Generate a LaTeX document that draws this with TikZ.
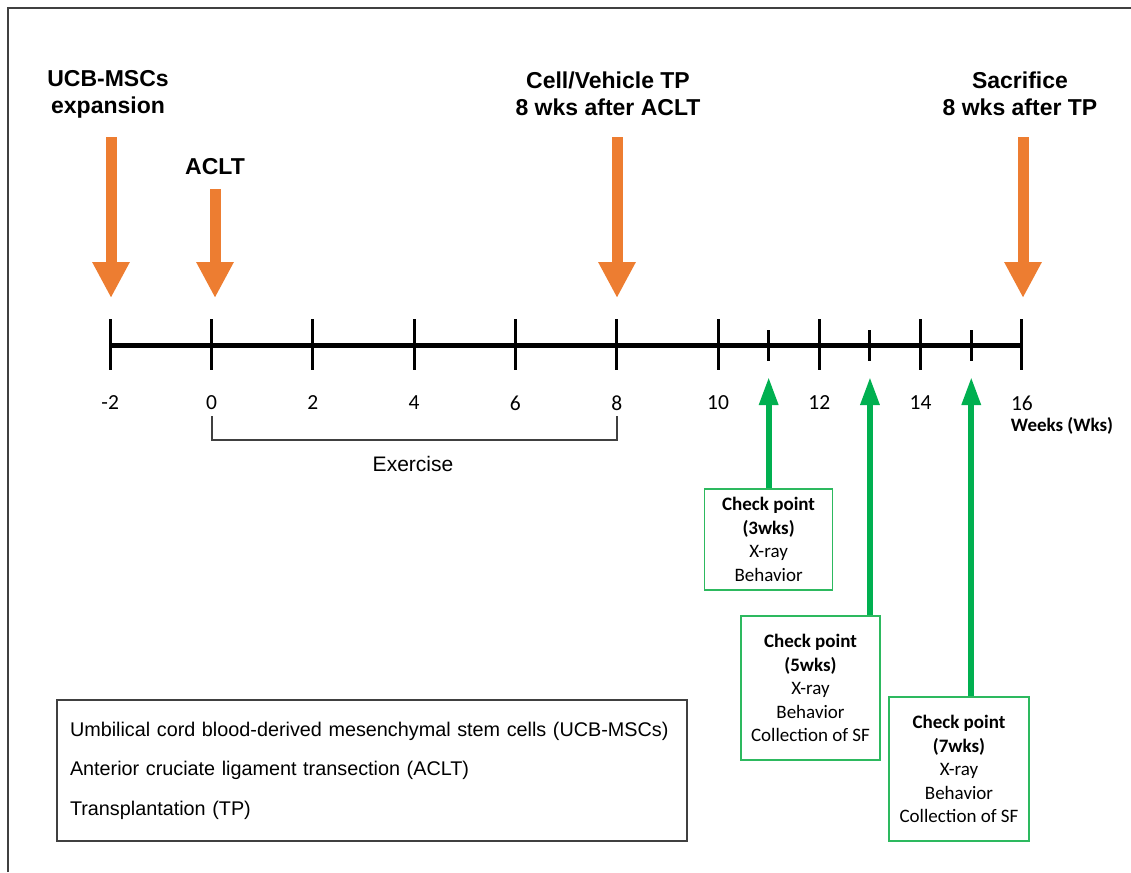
\documentclass[tikz,border=0pt]{standalone}
\usepackage{fontspec}
\setmainfont{Liberation Sans}
\newfontfamily\calibri{Carlito}
\usepackage{tikz}
\usetikzlibrary{arrows.meta, positioning, calc}
\definecolor{timeorange}{RGB}{237,125,49}
\definecolor{checkgreen}{RGB}{0,176,80}
\definecolor{boxgreen}{RGB}{45,185,95}
\definecolor{framegray}{RGB}{64,64,64}
\tikzset{
  event label/.style={
    align=center, inner sep=0pt,
    font=\fontsize{23}{27}\selectfont\bfseries
  },
  event arrow/.style={draw=timeorange, line width=11pt, -{Triangle[width=35pt, length=36pt]}},
  axis line/.style={draw=black, line width=5pt},
  major tick/.style={draw=black, line width=3pt},
  minor tick/.style={draw=black, line width=3pt},
  week label/.style={inner sep=0pt, font=\calibri\fontsize{21.5}{25}\selectfont},
  check box/.style={
    draw=boxgreen, line width=1.5pt, align=center, inner sep=0pt,
    font=\calibri\fontsize{19}{23.5}\selectfont
  },
  check arrow/.style={draw=checkgreen, line width=6pt, -{Triangle[width=18pt, length=28pt]}},
  legend box/.style={
    draw=framegray, line width=1.5pt, align=left, text width=604pt,
    inner xsep=13pt, minimum height=141pt,
    font=\fontsize{19.8}{39.5}\selectfont
  },
}
\begin{document}
\begin{tikzpicture}[x=1pt, y=-1pt]
  \useasboundingbox (0,0) rectangle (1131,872);
  \draw[framegray, line width=2pt] (8,872) |- (1131,8);

  % time axis
  \foreach \w in {-2,0,...,16} {
    \pgfmathsetmacro{\px}{211.5+50.65*\w}
    \coordinate (t\w) at (\px,345);
    \draw[major tick] (\px,319) -- (\px,370);
    \node[week label] (l\w) at (\px,403) {\w};
  }
  \foreach \w in {11,13,15} {
    \pgfmathsetmacro{\px}{211.5+50.65*\w}
    \coordinate (m\w) at (\px,345);
    \coordinate (tip\w) at (\px,377);
    \draw[minor tick] (\px,330) -- (\px,361);
  }
  \draw[axis line] (t-2) -- (t16);
  \node[font=\calibri\fontsize{19}{23}\selectfont\bfseries, inner sep=0pt] (wks) at (1062,426) {Weeks (Wks)};

  % exercise period
  \coordinate (ex0) at (212,416);
  \coordinate (ex8) at (617,416);
  \draw[framegray, line width=1.5pt] (ex0) -- ++(0,24) -| (ex8);
  \node[inner sep=0pt, font=\fontsize{21}{25}\selectfont] (exercise) at (413,464) {Exercise};

  % events
  \node[event label] (expansion) at (108,94) {UCB-MSCs\\expansion};
  \node[event label] (aclt) at (215,167) {ACLT};
  \node[event label] (tp) at (608,94) {Cell/Vehicle TP\\8 wks after ACLT};
  \node[event label] (sacrifice) at (1020,94) {Sacrifice\\8 wks after TP};

  \coordinate (expansion top) at (111,137);
  \coordinate (expansion tip) at (111,298);
  \coordinate (aclt top) at (215,189);
  \coordinate (aclt tip) at (215,298);
  \coordinate (tp top) at (617,137);
  \coordinate (tp tip) at (617,298);
  \coordinate (sacrifice top) at (1023,137);
  \coordinate (sacrifice tip) at (1023,298);
  \draw[event arrow] (expansion top) -- (expansion tip);
  \draw[event arrow] (aclt top) -- (aclt tip);
  \draw[event arrow] (tp top) -- (tp tip);
  \draw[event arrow] (sacrifice top) -- (sacrifice tip);

  % check points
  \node[check box, minimum width=128pt, minimum height=101pt] (cp3) at (768.6,539.5)
    {\textbf{Check point}\\\textbf{(3wks)}\\X-ray\\Behavior};
  \node[check box, minimum width=139pt, minimum height=144pt] (cp5) at (810.5,688)
    {\textbf{Check point}\\\textbf{(5wks)}\\X-ray\\Behavior\\Collection of SF};
  \node[check box, minimum width=140pt, minimum height=144pt] (cp7) at (959,769)
    {\textbf{Check point}\\\textbf{(7wks)}\\X-ray\\Behavior\\Collection of SF};
  \draw[check arrow] (cp3.north -| m11) -- (tip11);
  \draw[check arrow] (cp5.north -| m13) -- (tip13);
  \draw[check arrow] (cp7.north -| m15) -- (tip15);

  % abbreviations
  \node[legend box] (legend) at (372,770.5)
    {Umbilical cord blood-derived mesenchymal stem cells (UCB-MSCs)\\
     Anterior cruciate ligament transection (ACLT)\\
     Transplantation (TP)};
\end{tikzpicture}
\end{document}
